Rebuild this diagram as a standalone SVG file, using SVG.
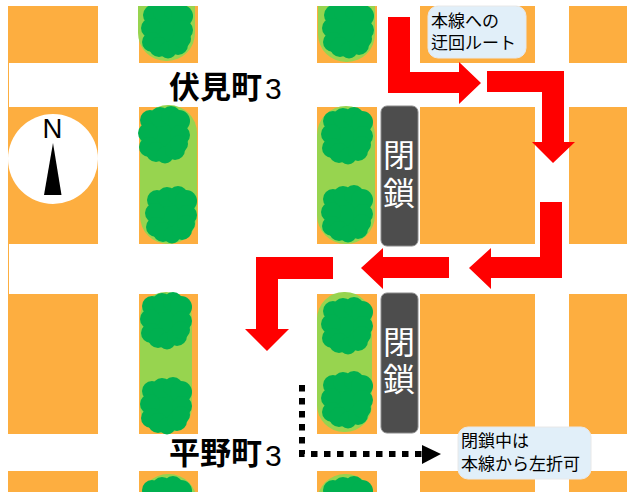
<svg xmlns="http://www.w3.org/2000/svg" width="627" height="492" viewBox="0 0 627 492">
<style>
.b{fill:#fdae40}
.p{fill:#97d44f}
.a{fill:#ff0000}
.cl{fill:#4d4d4d;stroke:#8a8a8a;stroke-width:1}
.ct{fill:#ffffff;font-family:"Noto Sans CJK JP","Noto Sans",sans-serif;font-size:32px;text-anchor:middle;font-weight:400}
.n{fill:#e1eff9;stroke:#e8e8e8;stroke-width:1}
.nt{fill:#000000;font-family:"Noto Sans CJK JP","Noto Sans",sans-serif;font-size:17px}
.l{fill:#000000;font-family:"Noto Sans CJK JP",sans-serif;font-size:31px;font-weight:700}
.d{fill:#000000;font-family:"Liberation Sans",sans-serif;font-size:30px;font-weight:400}
</style>
<defs>
<g id="tree" fill="#00b050">
<ellipse cx="0" cy="0" rx="21" ry="22"/>
<circle cx="-14" cy="-15" r="10"/><circle cx="-4" cy="-18" r="10"/><circle cx="7" cy="-19" r="10"/><circle cx="15" cy="-14" r="11"/>
<circle cx="-16" cy="-2" r="10"/><circle cx="16" cy="0" r="10"/>
<circle cx="-15" cy="12" r="10"/><circle cx="-8" cy="17" r="10"/><circle cx="1" cy="20" r="8.5"/><circle cx="11" cy="15" r="10"/><circle cx="15" cy="9" r="9"/>
</g>
<clipPath id="top"><rect x="0" y="6" width="627" height="486"/></clipPath>
</defs>
<g id="blocks">
<rect class="b" x="8" y="6" width="90" height="57"/><rect class="b" x="8" y="107" width="90" height="137"/><rect class="b" x="8" y="294" width="90" height="140"/><rect class="b" x="8" y="471" width="90" height="21"/>
<rect class="b" x="8" y="63" width="1" height="44"/><rect class="b" x="8" y="244" width="1" height="50"/>
<rect class="b" x="139" y="6" width="59" height="57"/><rect class="b" x="139" y="107" width="59" height="137"/><rect class="b" x="139" y="294" width="59" height="140"/><rect class="b" x="139" y="471" width="59" height="21"/>
<rect class="b" x="317" y="6" width="60" height="57"/><rect class="b" x="317" y="107" width="60" height="137"/><rect class="b" x="317" y="294" width="60" height="140"/><rect class="b" x="317" y="471" width="60" height="21"/>
<rect class="b" x="420" y="6" width="115" height="57"/><rect class="b" x="420" y="107" width="115" height="137"/><rect class="b" x="420" y="294" width="115" height="140"/><rect class="b" x="420" y="471" width="115" height="21"/>
<rect class="b" x="569" y="6" width="58" height="57"/><rect class="b" x="569" y="107" width="58" height="137"/><rect class="b" x="569" y="294" width="58" height="140"/><rect class="b" x="569" y="471" width="58" height="21"/>
</g>
<g id="planters">
<g clip-path="url(#top)">
<rect class="p" x="138" y="-30" width="57" height="91" rx="28"/>
<rect class="p" x="318" y="-30" width="57" height="92" rx="28"/>
</g>
<rect class="p" x="140" y="105" width="57" height="139" rx="28"/>
<rect class="p" x="317" y="106" width="58" height="138" rx="29"/>
<rect class="p" x="140" y="292" width="52" height="141" rx="26"/>
<rect class="p" x="317" y="292" width="55" height="140" rx="27"/>
<rect class="p" x="140" y="474" width="57" height="60" rx="28"/>
<rect class="p" x="317" y="474" width="57" height="60" rx="28"/>
</g>
<g id="trees">
<g clip-path="url(#top)"><use href="#tree" x="167" y="30"/><use href="#tree" x="348" y="30"/></g>
<use href="#tree" x="164" y="135"/><use href="#tree" x="171" y="215"/>
<use href="#tree" x="166" y="321"/><use href="#tree" x="166" y="406"/><use href="#tree" x="166" y="505"/>
<use href="#tree" x="347" y="136"/><use href="#tree" x="347" y="214"/>
<use href="#tree" x="347" y="326"/><use href="#tree" x="347" y="400"/><use href="#tree" x="347" y="505"/>
</g>
<g id="compass">
<circle cx="53" cy="159" r="45" fill="#ffffff"/>
<text x="52.5" y="138" font-family="Liberation Sans,sans-serif" font-size="27.5" text-anchor="middle" fill="#000000">N</text>
<polygon points="53,143 44,195 61.5,195" fill="#000000"/>
</g>
<g id="labels">
<text class="l" x="169" y="98">伏見町<tspan class="d" x="265" y="99">3</tspan></text>
<text class="l" x="169" y="464">平野町<tspan class="d" x="265" y="466">3</tspan></text>
</g>
<g id="connectors">
<polygon class="a" points="388,17 410,17 410,72 459,72 459,62 481,83 459,104 459,93 388,93"/>
<polygon class="a" points="487,71 564,71 564,142 575,142 553,163 532,142 542,142 542,92 487,92"/>
<polygon class="a" points="540,202 562,202 562,278 491,278 491,289 469,268 491,248 491,257 540,257"/>
<polygon class="a" points="449,257 449,278 383,278 383,289 361,268 383,248 383,257"/>
<polygon class="a" points="333,257 333,279 278,279 278,329 289,329 267,351 245,329 256,329 256,257"/>
<path d="M302,385 V454 H422" fill="none" stroke="#000000" stroke-width="6" stroke-dasharray="6.5 6.5"/>
<polygon points="422,445 441,454 422,464" fill="#000000"/>
</g>
<g id="closure1"><rect class="cl" x="381" y="106" width="37" height="140" rx="6"/><text class="ct" x="399" y="167">閉</text><text class="ct" x="399" y="205">鎖</text></g>
<g id="closure2"><rect class="cl" x="381" y="293" width="37" height="140" rx="6"/><text class="ct" x="399" y="354">閉</text><text class="ct" x="399" y="391">鎖</text></g>
<g id="note1"><rect class="n" x="428" y="6" width="98" height="52" rx="10"/><text class="nt" x="431" y="27">本線への</text><text class="nt" x="431" y="49">迂回ルート</text></g>
<g id="note2"><rect class="n" x="458" y="427" width="133" height="52" rx="10"/><text class="nt" x="461" y="447">閉鎖中は</text><text class="nt" x="461" y="470">本線から左折可</text></g>
</svg>
